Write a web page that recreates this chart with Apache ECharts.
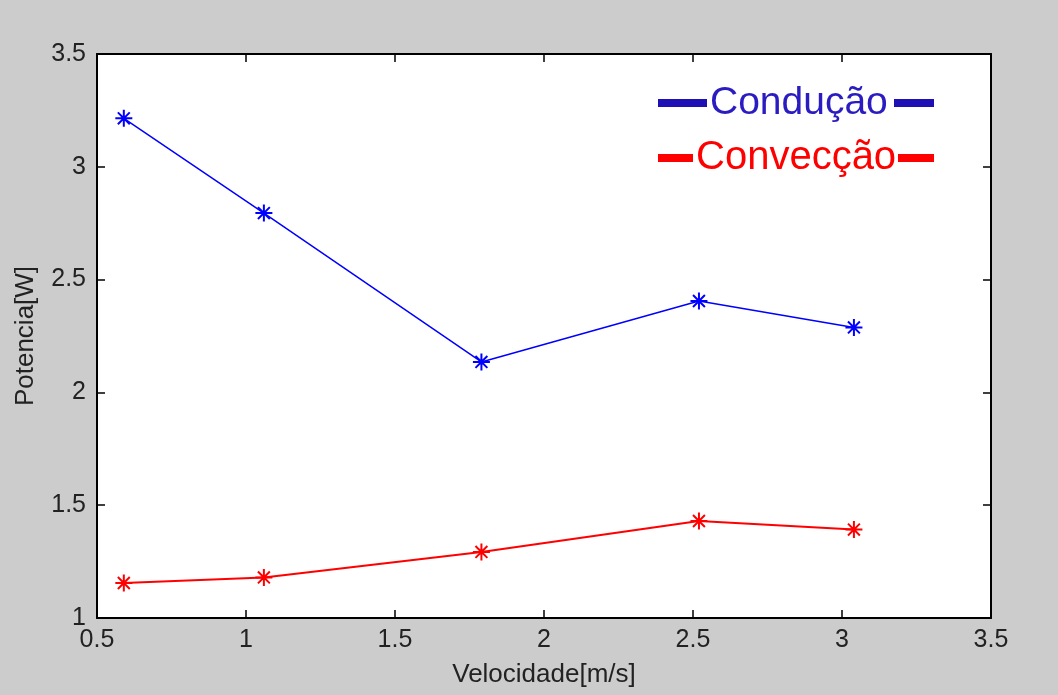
<!DOCTYPE html>
<html>
<head>
<meta charset="utf-8">
<script src="https://cdn.jsdelivr.net/npm/echarts@6/dist/echarts.min.js"></script>
<style>
  html, body { margin: 0; padding: 0; background: #cccccc; }
  #chart { width: 1058px; height: 695px; }
</style>
</head>
<body>
<div id="chart"></div>
<script>
// Measured velocities and the power drawn by each heat-transfer mode
const velocidade = [0.59, 1.06, 1.79, 2.52, 3.04];
const conducao   = [3.215, 2.795, 2.135, 2.405, 2.288];
const conveccao  = [1.155, 1.18, 1.293, 1.43, 1.392];
const xTicks = { min: 0.5, max: 3.5, step: 0.5 };
const yTicks = { min: 1, max: 3.5, step: 0.5 };

const FONT = '"Liberation Sans", Arial, Helvetica, sans-serif';
const star = 'path://M0,-10L0,10M-10,0L10,0M-7,-7L7,7M-7,7L7,-7';

const pairs = (xs, ys) => xs.map((x, i) => [x, ys[i]]);

const chart = echarts.init(document.getElementById('chart'), null, { renderer: 'canvas' });

const axisCommon = {
  type: 'value',
  axisLine: { show: true, onZero: false, lineStyle: { color: '#000', width: 2 } },
  axisTick: { show: true, inside: true, length: 8, lineStyle: { color: '#000', width: 1.5 } },
  splitLine: { show: false }
};
const labelStyle = { color: '#222', fontSize: 25, fontFamily: FONT };

chart.setOption({
  backgroundColor: '#cccccc',
  animation: false,
  grid: { left: 97, right: 67, top: 54, bottom: 77, show: true, backgroundColor: '#ffffff', borderWidth: 0 },
  xAxis: [
    Object.assign({}, axisCommon, {
      position: 'bottom', min: xTicks.min, max: xTicks.max, interval: xTicks.step,
      axisLabel: Object.assign({ margin: 10 }, labelStyle),
      name: 'Velocidade[m/s]', nameLocation: 'middle', nameGap: 44,
      nameTextStyle: { color: '#222', fontSize: 26, fontFamily: FONT }
    }),
    Object.assign({}, axisCommon, {
      position: 'top', min: xTicks.min, max: xTicks.max, interval: xTicks.step,
      axisLabel: { show: false }
    })
  ],
  yAxis: [
    Object.assign({}, axisCommon, {
      position: 'left', min: yTicks.min, max: yTicks.max, interval: yTicks.step,
      axisLabel: Object.assign({ margin: 11 }, labelStyle),
      name: 'Potencia[W]', nameLocation: 'middle', nameGap: 58,
      nameTextStyle: { color: '#222', fontSize: 26, fontFamily: FONT }
    }),
    Object.assign({}, axisCommon, {
      position: 'right', min: yTicks.min, max: yTicks.max, interval: yTicks.step,
      axisLabel: { show: false }
    })
  ],
  legend: [
    {
      left: 653, top: 78, orient: 'vertical', icon: 'rect',
      itemWidth: 49, itemHeight: 8, itemGap: 0,
      textStyle: { color: '#2a1cc0', fontSize: 39, lineHeight: 40, fontFamily: FONT, padding: [0, 0, 0, -2] },
      data: [{ name: 'Condução', itemStyle: { color: '#1e10b4', borderWidth: 0 } }],
      selectedMode: false
    },
    {
      left: 653, top: 133, orient: 'vertical', icon: 'rect',
      itemWidth: 35, itemHeight: 8, itemGap: 0,
      textStyle: { color: '#ff0000', fontSize: 40, lineHeight: 40, fontFamily: FONT, padding: [0, 0, 0, -2] },
      data: [{ name: 'Convecção', itemStyle: { color: '#ff0000', borderWidth: 0 } }],
      selectedMode: false
    }
  ],
  graphic: [
    { type: 'rect', left: 894, top: 99, shape: { width: 40, height: 8 }, style: { fill: '#1e10b4' }, z: 10 },
    { type: 'rect', left: 898, top: 154, shape: { width: 36, height: 8 }, style: { fill: '#ff0000' }, z: 10 }
  ],
  series: [
    {
      name: 'Condução', type: 'line', data: pairs(velocidade, conducao),
      symbol: star, symbolSize: 17,
      lineStyle: { color: '#0000ff', width: 1.5 },
      itemStyle: { color: '#0000ff', borderColor: '#0000ff', borderWidth: 2 }
    },
    {
      name: 'Convecção', type: 'line', data: pairs(velocidade, conveccao),
      symbol: star, symbolSize: 17,
      lineStyle: { color: '#ff0000', width: 2 },
      itemStyle: { color: '#ff0000', borderColor: '#ff0000', borderWidth: 2 }
    }
  ]
});
</script>
</body>
</html>
